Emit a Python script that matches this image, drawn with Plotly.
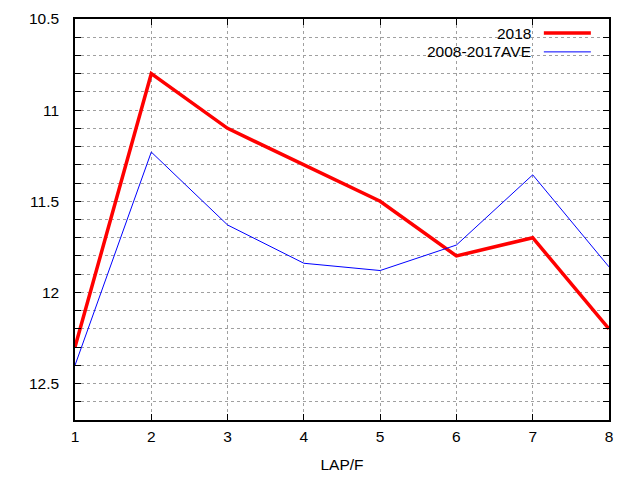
import plotly.graph_objects as go

laps = [1, 2, 3, 4, 5, 6, 7, 8]
y2018 = [12.3, 10.8, 11.1, 11.3, 11.5, 11.8, 11.7, 12.2]
y_ave = [12.4, 11.23, 11.63, 11.84, 11.88, 11.74, 11.355, 11.86]
names = ["2018", "2008-2017AVE"]

font = dict(family="Liberation Sans, Arial, sans-serif", size=15.5, color="black")

fig = go.Figure()
fig.add_trace(go.Scatter(x=laps, y=y2018, mode="lines", name=names[0],
                         line=dict(color="#ff0000", width=3.5)))
fig.add_trace(go.Scatter(x=laps, y=y_ave, mode="lines", name=names[1],
                         line=dict(color="#0000ff", width=1)))

# gnuplot-style key: text on the left, sample line on the right
key_rows = [(0.965, "#ff0000", 3.5), (0.918, "#0000ff", 1)]
for name, (yy, col, w) in zip(names, key_rows):
    fig.add_annotation(x=0.857, y=yy, xref="paper", yref="paper", text=name,
                       showarrow=False, xanchor="right", yanchor="middle", font=font)
    fig.add_shape(type="line", xref="paper", yref="paper", x0=0.878, x1=0.966,
                  y0=yy, y1=yy, line=dict(color=col, width=w))

grid = dict(showgrid=True, gridcolor="#a0a0a0", griddash="dot", gridwidth=1)

fig.update_xaxes(range=[1, 8], dtick=1, tick0=1, ticks="inside", ticklen=6,
                 tickcolor="black", showline=True, linecolor="black", linewidth=1.5,
                 mirror="ticks", zeroline=False, tickfont=font, automargin=False,
                 ticklabelstandoff=2,
                 title=dict(text="LAP/F", font=font, standoff=15), **grid)
fig.update_yaxes(range=[12.7, 10.5], dtick=0.5, tick0=10.5, ticks="inside", ticklen=6,
                 tickcolor="black", showline=True, linecolor="black", linewidth=1.5,
                 mirror="ticks", zeroline=False, tickfont=font, ticklabelstandoff=11,
                 automargin=False,
                 minor=dict(dtick=0.1, ticks="inside", ticklen=6, tickcolor="black",
                            showgrid=True, gridcolor="#a0a0a0", griddash="dot"),
                 **grid)

# page body adds an 8px offset, so margins are shifted to compensate
fig.update_layout(width=640, height=480, showlegend=False,
                  margin=dict(l=67, r=39, t=11, b=68),
                  plot_bgcolor="white", paper_bgcolor="white", font=font)

fig.write_html("out.html")
